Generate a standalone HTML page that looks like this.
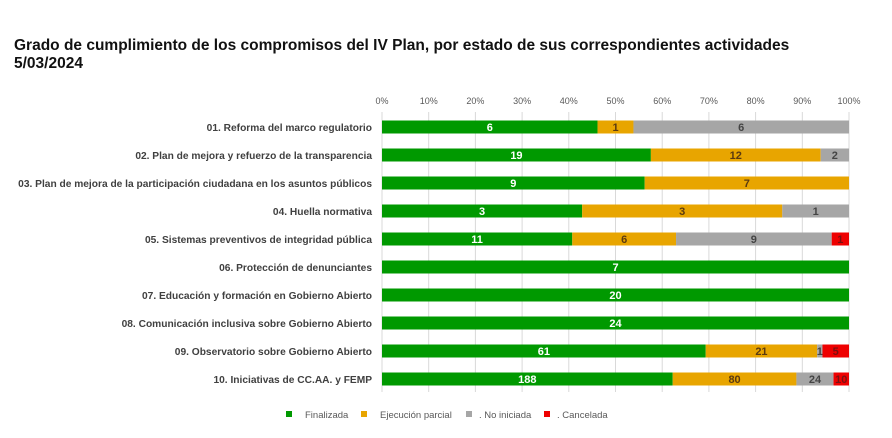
<!DOCTYPE html>
<html><head><meta charset="utf-8"><style>
body{margin:0;background:#fff;font-family:"Liberation Sans",sans-serif;}
#wrap{position:relative;width:892px;height:438px;overflow:hidden;}
h1{position:absolute;left:14px;top:37px;margin:0;font-size:15.5px;font-weight:bold;line-height:18px;color:#111;}
</style></head><body>
<div id="wrap">
<h1>Grado de cumplimiento de los compromisos del IV Plan, por estado de sus correspondientes actividades<br>5/03/2024</h1>
<svg id="svg" width="892" height="438" style="position:absolute;left:0;top:0"></svg>
</div>
<script>
const categories=["01. Reforma del marco regulatorio","02. Plan de mejora y refuerzo de la transparencia","03. Plan de mejora de la participación ciudadana en los asuntos públicos","04. Huella normativa","05. Sistemas preventivos de integridad pública","06. Protección de denunciantes","07. Educación y formación en Gobierno Abierto","08. Comunicación inclusiva sobre Gobierno Abierto","09. Observatorio sobre Gobierno Abierto","10. Iniciativas de CC.AA. y FEMP"];
const finalizada=[6,19,9,3,11,7,20,24,61,188];
const parcial=[1,12,7,3,6,0,0,0,21,80];
const noIniciada=[6,2,0,1,9,0,0,0,1,24];
const cancelada=[0,0,0,0,1,0,0,0,5,10];
const seriesNames=["Finalizada","Ejecución parcial",". No iniciada",". Cancelada"];
const ticks=[0,10,20,30,40,50,60,70,80,90,100];
const colors=["#009900","#E8A500","#A6A6A6","#EE0000"];
const textColors=["#fff","#5a3a10","#444","#7a1010"];
const NS="http://www.w3.org/2000/svg";
const svg=document.getElementById('svg');
const x0=382,x1=849,yTop=127,step=28,bh=13;
const xs=p=>x0+(x1-x0)*p/100;
const yc=i=>yTop+i*step;
function mk(t,a,txt){const e=document.createElementNS(NS,t);for(const k in a)e.setAttribute(k,a[k]);if(txt!==undefined)e.textContent=txt;svg.appendChild(e);return e;}
ticks.forEach(t=>{
 const l=mk('line',{x1:xs(t),x2:xs(t),y1:112,y2:392,stroke:'#d9d9d9','stroke-width':1});
 
 
 const tx=mk('text',{x:xs(t),y:104,'text-anchor':'middle','font-size':9,fill:'#595959'},t+'%');
 
 
});
const all=[finalizada,parcial,noIniciada,cancelada];
categories.forEach((c,i)=>{
 const lb=mk('text',{x:372,y:yc(i)+4,'text-anchor':'end','font-size':10.2,'font-weight':'bold',fill:'#404040'},c);
 
 
 const tot=all.reduce((s,a)=>s+a[i],0);
 let acc=0;
 all.forEach((a,k)=>{
  const v=a[i]; if(!v)return;
  const xa=xs(acc/tot*100),xb=xs((acc+v)/tot*100);acc+=v;
  const r=mk('rect',{x:xa,y:yc(i)-bh/2,width:xb-xa,height:bh,fill:colors[k]});
  
  
  const t=mk('text',{x:(xa+xb)/2,y:yc(i)+4,'text-anchor':'middle','font-size':11,'font-weight':'bold',fill:textColors[k]},v);
  
  
 });
});
const lx=[289,364,469,547];
seriesNames.forEach((n,k)=>{
 const r=mk('rect',{x:lx[k]-3,y:411,width:6,height:6,fill:colors[k]});
 
 
 const t=mk('text',{x:lx[k]+(k>=2?10:16),y:418,'font-size':9.5,fill:'#595959'},n);
 
 
});
</script>
</body></html>
